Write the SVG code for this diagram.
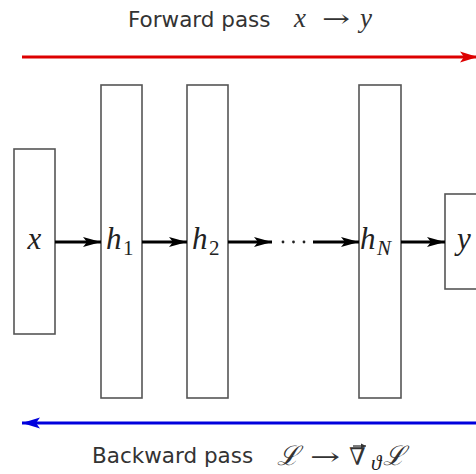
<svg xmlns="http://www.w3.org/2000/svg" width="476" height="474" viewBox="0 0 476 474">
<style>
.box{fill:#fff;stroke:#555;stroke-width:1.6}
.lbl{font-family:"Liberation Serif","DejaVu Serif",serif;font-style:italic;font-size:31px;fill:#222}
.sub{font-family:"Liberation Serif","DejaVu Serif",serif;font-size:21px;fill:#222}
.subi{font-family:"Liberation Serif","DejaVu Serif",serif;font-style:italic;font-size:21px;fill:#222}
.cap{font-family:"DejaVu Sans",sans-serif;font-size:21.5px;fill:#333}
.m{font-family:"Liberation Serif","DejaVu Serif",serif;font-style:italic;font-size:27px;fill:#333}
.mr{font-family:"DejaVu Serif",serif;font-size:24px;fill:#333}
.conn{stroke:#000;stroke-width:3;fill:none}
</style>
<defs>
<marker id="ah" markerUnits="userSpaceOnUse" markerWidth="20" markerHeight="12" refX="18" refY="6" orient="auto">
<path d="M0,1 L18,6 L0,11 L4,6 Z" fill="#000"/>
</marker>
<marker id="ar" markerUnits="userSpaceOnUse" markerWidth="20" markerHeight="14" refX="18" refY="7" orient="auto">
<path d="M0,1.5 L18,7 L0,12.5 L4,7 Z" fill="#dd0000"/>
</marker>
<marker id="ab" markerUnits="userSpaceOnUse" markerWidth="20" markerHeight="14" refX="18" refY="7" orient="auto">
<path d="M0,1.5 L18,7 L0,12.5 L4,7 Z" fill="#0000dd"/>
</marker>
<marker id="av" markerUnits="userSpaceOnUse" markerWidth="6" markerHeight="6" refX="5" refY="3" orient="auto">
<path d="M0,0.5 L5,3 L0,5.5 Z" fill="#333"/>
</marker>
</defs>

<g id="forward">
<line x1="22" y1="57" x2="478" y2="57" stroke="#dd0000" stroke-width="3" marker-end="url(#ar)"/>
<text class="cap" x="128" y="27">Forward pass</text>
<text class="m" x="294" y="27">x</text>
<text class="mr" x="322" y="27" textLength="28" lengthAdjust="spacingAndGlyphs">→</text>
<text class="m" x="360" y="27">y</text>
</g>

<g id="backward">
<line x1="476" y1="423" x2="22" y2="423" stroke="#0000dd" stroke-width="3" marker-end="url(#ab)"/>
<text class="cap" x="92" y="463">Backward pass</text>
<text class="m" x="277" y="465" font-style="normal">ℒ</text>
<text class="mr" x="310" y="465" textLength="30" lengthAdjust="spacingAndGlyphs">→</text>
<text class="mr" x="349" y="465">∇</text>
<line x1="353" y1="446" x2="366" y2="446" stroke="#333" stroke-width="1.3" marker-end="url(#av)"/>
<text class="subi" x="371" y="470" font-size="16">ϑ</text>
<text class="m" x="383" y="465" font-style="normal">ℒ</text>
</g>

<g id="node-x">
<rect class="box" x="14" y="149" width="41" height="185"/>
<text class="lbl" x="34.5" y="249" text-anchor="middle">x</text>
</g>
<g id="node-h1">
<rect class="box" x="101" y="85" width="41" height="313"/>
<text class="lbl" x="106" y="249">h</text><text class="sub" x="123" y="255">1</text>
</g>
<g id="node-h2">
<rect class="box" x="187" y="85" width="41" height="313"/>
<text class="lbl" x="192" y="249">h</text><text class="sub" x="209" y="255">2</text>
</g>
<g id="node-hN">
<rect class="box" x="359" y="85" width="42" height="313"/>
<text class="lbl" x="360" y="249">h</text><text class="subi" x="377" y="255">N</text>
</g>
<g id="node-y">
<rect class="box" x="445" y="194" width="40" height="95"/>
<text class="lbl" x="457" y="249">y</text>
</g>

<g id="connectors">
<line class="conn" x1="55" y1="242" x2="101" y2="242" marker-end="url(#ah)"/>
<line class="conn" x1="142" y1="242" x2="187" y2="242" marker-end="url(#ah)"/>
<line class="conn" x1="228" y1="242" x2="272" y2="242" marker-end="url(#ah)"/>
<line class="conn" x1="313" y1="242" x2="359" y2="242" marker-end="url(#ah)"/>
<line class="conn" x1="401" y1="242" x2="445" y2="242" marker-end="url(#ah)"/>
</g>
<g id="dots" fill="#222">
<circle cx="283" cy="242" r="1.4"/>
<circle cx="293.5" cy="242" r="1.4"/>
<circle cx="304" cy="242" r="1.4"/>
</g>
</svg>
